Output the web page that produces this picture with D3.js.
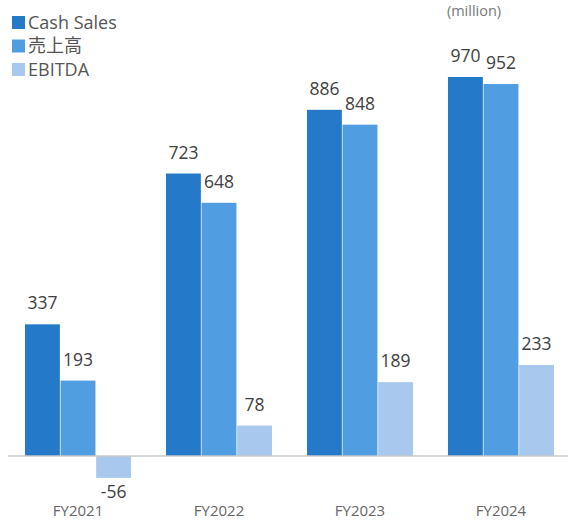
<!DOCTYPE html>
<html>
<head>
<meta charset="utf-8">
<script src="https://cdn.jsdelivr.net/npm/d3@7"></script>
<style>
  body { margin: 0; background: #fff; }
  text { font-family: "Open Sans", "Noto Sans CJK JP", sans-serif; }
</style>
</head>
<body>
<svg width="568" height="522"></svg>
<script>
var years = ["FY2021", "FY2022", "FY2023", "FY2024"];
var seriesNames = ["Cash Sales", "売上高", "EBITDA"];
var cashSales = [337, 723, 886, 970];
var sales = [193, 648, 848, 952];
var ebitda = [-56, 78, 189, 233];
var colors = ["#2479c9", "#519de2", "#a8c8ee"];

var svg = d3.select("svg");

var x0 = d3.scaleBand().domain(years).range([25, 554]).paddingInner(0.248).paddingOuter(0);
var x1 = d3.scaleBand().domain(seriesNames).range([0, x0.bandwidth()]).paddingInner(0.02);
var y = d3.scaleLinear().domain([0, 970]).range([456, 77]);

var rows = years.map(function(yr, i) {
  return { year: yr, values: [cashSales[i], sales[i], ebitda[i]] };
});

var group = svg.selectAll(".grp")
  .data(rows)
  .enter().append("g")
    .attr("class", "grp")
    .attr("transform", function(d) { return "translate(" + x0(d.year) + ",0)"; });

var bars = group.selectAll("g.bar")
  .data(function(d) { return d.values.map(function(v, k) { return { name: seriesNames[k], k: k, v: v }; }); })
  .enter().append("g").attr("class", "bar");

bars.append("rect")
  .attr("x", function(d) { return x1(d.name); })
  .attr("width", x1.bandwidth())
  .attr("y", function(d) { return y(Math.max(0, d.v)); })
  .attr("height", function(d) { return Math.abs(y(d.v) - y(0)); })
  .attr("fill", function(d) { return colors[d.k]; });

bars.append("text")
  .attr("x", function(d) { return x1(d.name) + x1.bandwidth() / 2; })
  .attr("y", function(d) { return d.v < 0 ? y(d.v) + 20 : y(d.v) - 15; })
  .attr("text-anchor", "middle")
  .attr("font-size", 17.5)
  .attr("fill", "#404040")
  .text(function(d) { return d.v; });

// zero line
svg.append("line")
  .attr("x1", 8).attr("x2", 568)
  .attr("y1", y(0)).attr("y2", y(0))
  .attr("stroke", "#c8c8c8").attr("stroke-width", 1.5);

svg.selectAll(".cat")
  .data(years)
  .enter().append("text")
    .attr("class", "cat")
    .attr("x", function(d) { return x0(d) + x0.bandwidth() / 2; })
    .attr("y", 516)
    .attr("text-anchor", "middle")
    .attr("font-size", 15)
    .attr("fill", "#666")
    .text(function(d) { return d; });

// legend
var legend = svg.selectAll(".leg")
  .data(seriesNames)
  .enter().append("g")
    .attr("class", "leg")
    .attr("transform", function(d, i) { return "translate(12," + (16 + i * 23.5) + ")"; });

legend.append("rect")
  .attr("width", 13).attr("height", 13)
  .attr("fill", function(d, i) { return colors[i]; });

legend.append("text")
  .attr("x", 16).attr("y", 12.5)
  .attr("font-size", 18)
  .attr("fill", "#555")
  .text(function(d) { return d; });

svg.append("text")
  .attr("x", 474).attr("y", 16)
  .attr("text-anchor", "middle")
  .attr("font-size", 14.5)
  .attr("fill", "#777")
  .text("(million)");
</script>
</body>
</html>
